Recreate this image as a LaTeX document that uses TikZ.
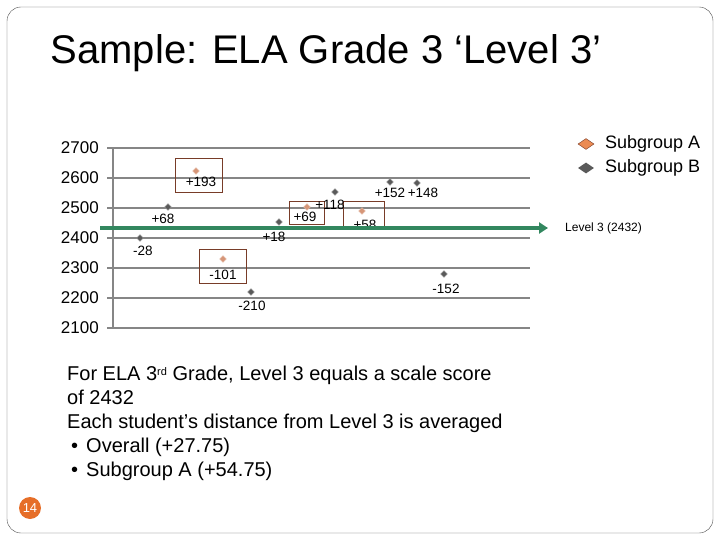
\documentclass[tikz,border=0pt]{standalone}
\usepackage{fontspec}
\setmainfont{Liberation Sans}
\usetikzlibrary{shapes.geometric,arrows.meta}
\definecolor{grid}{RGB}{134,134,134}
\definecolor{ptB}{RGB}{90,90,90}
\definecolor{ptA}{RGB}{214,150,120}
\definecolor{boxc}{RGB}{120,60,40}
\definecolor{arr}{RGB}{50,135,95}
\definecolor{orng}{RGB}{230,110,40}
\tikzset{
 ptb/.style={diamond,fill=ptB,draw=ptB!60,inner sep=0pt,minimum size=7pt},
 pta/.style={diamond,fill=ptA,draw=ptA!60,inner sep=0pt,minimum size=7pt},
 lbl/.style={font=\fontsize{13.5}{13.5}\selectfont,inner sep=0pt},
 ax/.style={font=\fontsize{17}{17}\selectfont,inner sep=0pt,anchor=east},
 gl/.style={draw=grid,line width=2pt},
 hb/.style={draw=boxc,line width=0.8pt}
}
\begin{document}
\begin{tikzpicture}[x=1pt,y=-1pt]
\useasboundingbox (0,0) rectangle (720,540);
\draw[rounded corners=14pt,draw=black!70] (7,7) rectangle (713,533);
\node[font=\fontsize{40}{40}\selectfont] (title) at (326,53) {Sample: ELA Grade 3 ‘Level 3’};
\foreach \v/\y in {2700/148,2600/178,2500/208,2400/238,2300/268,2200/298,2100/328}{
 \draw[gl] (107,\y) -- (530,\y);
 \node[ax] at (99,\y) {\v};
}
\draw[gl] (113,148) -- (113,329);
% boxes
\draw[hb] (175,158) rectangle (222,192);
\draw[hb] (199,249) rectangle (246,283);
\draw[hb] (289,201) rectangle (324,224);
\draw[hb] (343,201) rectangle (384,229);
% points
\foreach \n/\x/\y/\lx/\ly/\t in {p1/140/238/143/251/-28,p2/168/207/163/219/+68,p5/251/292/252/306/-210,p6/279/222/274/237/+18,p8/335/192/330/205/+118,p10/390/182/390/193/+152,p11/417/183/423/193/+148,p12/444/274/446/289/-152}{
 \node[ptb] (\n) at (\x,\y) {};
 \node[lbl] (\n l) at (\lx,\ly) {\t};
}
\foreach \n/\x/\y/\lx/\ly/\t in {p3/196/171/201/182/+193,p4/223/259/223/275/-101,p7/307/207/305/217/+69,p9/362/211/365/225/+58}{
 \node[pta] (\n) at (\x,\y) {};
 \node[lbl] (\n l) at (\lx,\ly) {\t};
}
% level arrow
\coordinate (a0) at (100,228);
\coordinate (a1) at (548,228);
\draw[draw=arr,line width=3.5pt,-{Triangle[length=9pt,width=11pt]}] (a0) -- (a1);
\node[font=\fontsize{12}{12}\selectfont,anchor=west,inner sep=0pt] (lv) at (565,228) {Level 3 (2432)};
% legend
\node[diamond,fill=orng!80,draw=boxc,inner sep=0pt,minimum width=16pt,minimum height=11pt] (la) at (586,144) {};
\node[font=\fontsize{18}{18}\selectfont,anchor=west,inner sep=0pt] (lat) at (605,144) {Subgroup A};
\node[diamond,fill=ptB,inner sep=0pt,minimum width=16pt,minimum height=11pt] (lb) at (586,168) {};
\node[font=\fontsize{18}{18}\selectfont,anchor=west,inner sep=0pt] (lbt) at (605,168) {Subgroup B};
% text
\node[anchor=north west,align=left,font=\fontsize{20}{24}\selectfont,inner sep=0pt] (txt) at (67,366) {For ELA 3{\fontsize{11}{11}\selectfont\raisebox{5pt}{rd}} Grade, Level 3 equals a scale score\\of 2432\\Each student’s distance from Level 3 is averaged\\\hspace*{4pt}•\hspace{8pt}Overall (+27.75)\\\hspace*{4pt}•\hspace{8pt}Subgroup A (+54.75)};
\node[circle,fill=orng,text=white,font=\fontsize{13}{13}\selectfont,inner sep=1pt,minimum size=22pt] (pg) at (30,508) {14};
\end{tikzpicture}
\end{document}
